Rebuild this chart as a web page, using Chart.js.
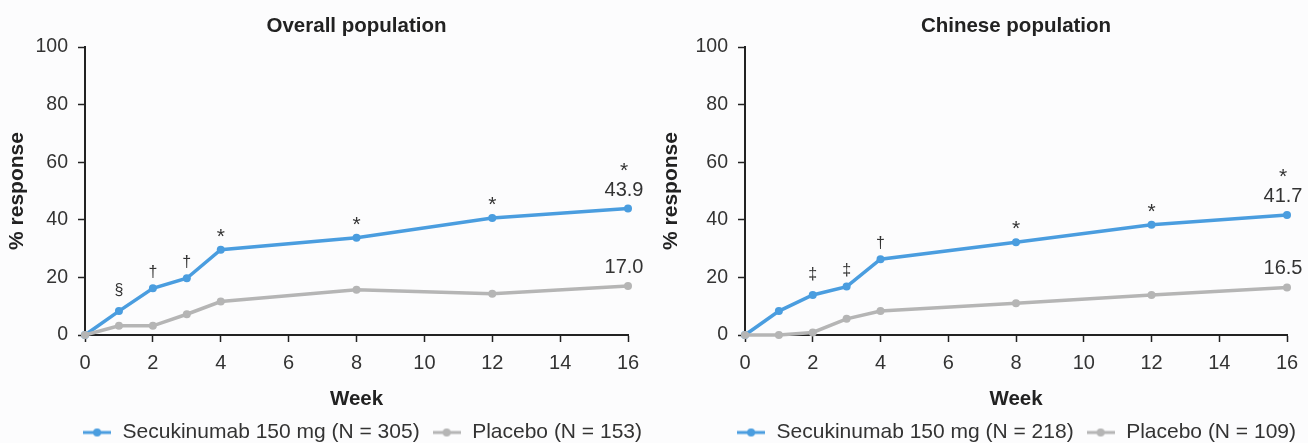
<!DOCTYPE html>
<html>
<head>
<meta charset="utf-8">
<script src="https://cdn.jsdelivr.net/npm/chart.js@4.4.0/dist/chart.umd.min.js"></script>
<style>
  html, body { margin: 0; padding: 0; background: #fcfcfd; }
  .wrap { display: flex; width: 1308px; height: 443px; overflow: hidden; }
  .panel { width: 654px; height: 443px; overflow: hidden; }
  canvas { display: block; }
</style>
</head>
<body>
<div class="wrap">
  <div class="panel"><canvas id="overall" width="654" height="453"></canvas></div>
  <div class="panel"><canvas id="chinese" width="654" height="453"></canvas></div>
</div>
<script>
// ----- data -----
const weeks = [0, 1, 2, 3, 4, 8, 12, 16];
const xTicks = [0, 2, 4, 6, 8, 10, 12, 14, 16];
const yTicks = [0, 20, 40, 60, 80, 100];

const overallSecukinumab = [0, 8.3, 16.2, 19.7, 29.6, 33.8, 40.6, 43.9];
const overallPlacebo     = [0, 3.2, 3.2, 7.2, 11.6, 15.7, 14.3, 17.0];
const chineseSecukinumab = [0, 8.3, 13.9, 16.8, 26.3, 32.2, 38.3, 41.7];
const chinesePlacebo     = [0, 0, 0.9, 5.6, 8.3, 11.0, 13.9, 16.5];

// significance marks above each secukinumab point
const overallMarks = ['', '§', '†', '†', '*', '*', '*', '*'];
const chineseMarks = ['', '', '‡', '‡', '†', '*', '*', '*'];

const BLUE = '#4a9ddf';
const GREY = '#b5b5b5';
const TEXT = '#333333';
const FONT = "'Liberation Sans', Arial, sans-serif";

function legendIcon(color) {
  const c = document.createElement('canvas');
  c.width = 28; c.height = 10;
  const g = c.getContext('2d');
  g.strokeStyle = color; g.lineWidth = 3;
  g.beginPath(); g.moveTo(0, 5); g.lineTo(28, 5); g.stroke();
  g.fillStyle = color;
  g.beginPath(); g.arc(14, 5, 4, 0, Math.PI * 2); g.fill();
  return c;
}

function drawCentered(ctx, text, x, cy, font) {
  ctx.font = font;
  const m = ctx.measureText(text);
  ctx.textAlign = 'center';
  ctx.textBaseline = 'alphabetic';
  ctx.fillText(text, x, cy + (m.actualBoundingBoxAscent - m.actualBoundingBoxDescent) / 2);
}

const symFont = s => (s === '*' ? '21px ' : '16px ') + FONT;

// draws the footnote symbols and end-of-line values
const markLabels = {
  id: 'markLabels',
  afterDatasetsDraw(chart) {
    const ctx = chart.ctx;
    ctx.save();
    ctx.fillStyle = TEXT;
    chart.data.datasets.forEach((ds, di) => {
      const meta = chart.getDatasetMeta(di);
      const last = ds.data.length - 1;
      ds.data.forEach((v, i) => {
        const pt = meta.data[i];
        const sym = ds.marks ? ds.marks[i] : '';
        if (i === last) {
          drawCentered(ctx, v.y.toFixed(1), pt.x - 4, pt.y - 20, '20px ' + FONT);
          if (sym) drawCentered(ctx, sym, pt.x - 4, pt.y - 42, symFont(sym));
        } else if (sym) {
          drawCentered(ctx, sym, pt.x, pt.y - 17, symFont(sym));
        }
      });
    });
    ctx.restore();
  }
};

function makeChart(id, title, sec, pla, marks, nSec, nPla, leftW, rightW) {
  const pts = arr => weeks.map((w, i) => ({ x: w, y: arr[i] }));
  const lineStyle = color => ({
    borderColor: color, backgroundColor: color,
    borderWidth: 3.5, pointRadius: 4, pointHoverRadius: 4,
    pointBackgroundColor: color, pointBorderWidth: 0,
    tension: 0, clip: false
  });
  return new Chart(document.getElementById(id), {
    type: 'line',
    data: {
      datasets: [
        Object.assign({ label: `Secukinumab 150 mg (N = ${nSec})`, data: pts(sec), marks: marks, order: 1 }, lineStyle(BLUE)),
        Object.assign({ label: `Placebo (N = ${nPla})`, data: pts(pla), order: 0 }, lineStyle(GREY))
      ]
    },
    options: {
      responsive: false,
      animation: false,
      devicePixelRatio: 1,
      layout: { padding: 0 },
      plugins: {
        title: {
          display: true, text: title, color: '#222', fullSize: false,
          font: { family: FONT, size: 20.5, weight: 'bold', lineHeight: 1.2 },
          padding: { top: 14, bottom: 8.4 }
        },
        legend: {
          position: 'bottom', align: 'end',
          labels: {
            usePointStyle: true, pointStyleWidth: 30, padding: 12,
            color: TEXT, font: { family: FONT, size: 21 },
            generateLabels: chart => chart.data.datasets.map((ds, i) => ({
              text: ds.label, pointStyle: legendIcon(ds.borderColor),
              fontColor: TEXT, datasetIndex: i, hidden: false,
              lineWidth: 0, strokeStyle: 'transparent', fillStyle: 'transparent'
            }))
          }
        },
        tooltip: { enabled: false }
      },
      scales: {
        x: {
          type: 'linear', min: 0, max: 16,
          afterFit: s => { s.height = 75; },
          afterBuildTicks: s => { s.ticks = xTicks.map(v => ({ value: v })); },
          ticks: { color: TEXT, font: { family: FONT, size: 20 }, padding: 9, maxRotation: 0 },
          grid: { drawOnChartArea: false, drawTicks: true, tickLength: 7, tickColor: '#222', tickWidth: 1.5 },
          border: { color: '#222', width: 2 },
          title: { display: true, text: 'Week', color: '#222', font: { family: FONT, size: 20.5, weight: 'bold', lineHeight: 1 }, padding: 0 }
        },
        y: {
          min: 0, max: 100,
          afterFit: s => { s.width = leftW; },
          afterBuildTicks: s => { s.ticks = yTicks.map(v => ({ value: v })); },
          ticks: { color: TEXT, font: { family: FONT, size: 19.5 }, padding: 10 },
          grid: { drawOnChartArea: false, drawTicks: true, tickLength: 7, tickColor: '#222', tickWidth: 1.5 },
          border: { color: '#222', width: 2 },
          title: { display: true, text: '% response', color: '#222', font: { family: FONT, size: 21, weight: 'bold', lineHeight: 1 }, padding: { top: 7, bottom: 0 } }
        },
        pad: {
          type: 'linear', position: 'right', display: true,
          afterFit: s => { s.width = rightW; },
          ticks: { display: false },
          grid: { display: false, drawTicks: false },
          border: { display: false }
        }
      }
    },
    plugins: [markLabels]
  });
}

makeChart('overall', 'Overall population', overallSecukinumab, overallPlacebo, overallMarks, 305, 153, 85, 26);
makeChart('chinese', 'Chinese population', chineseSecukinumab, chinesePlacebo, chineseMarks, 218, 109, 91, 21);
</script>
</body>
</html>
